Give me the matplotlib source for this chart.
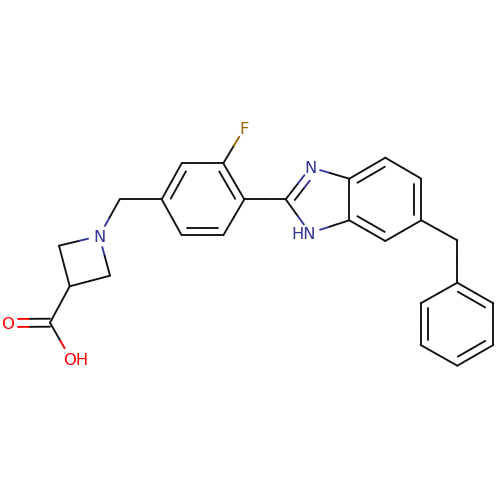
import numpy as np
import matplotlib
matplotlib.use("Agg")
import matplotlib.pyplot as plt

# atom positions
atom_names = ["O1","C1","O2","C2","C3","N1","C4","C5","C6","C7","C8","F","C9","C10","C11",
              "C12","N2","N3","C13","C14","C15","C16","C17","C18","C19","C20","C21","C22","C23","C24","C25"]
atom_x = [7.3,50,70.8,69.7,59,99.3,110,119.7,161.7,181.7,223.3,244.3,244.3,223.3,181.7,
          285.7,310.5,310,349.3,349.3,385.3,421.3,421.3,385.3,457.3,457.3,493.3,493.3,457.3,420.7,420.7]
atom_y = [323,322.7,359,286.3,245.7,236,275.7,199.3,199.3,163.3,163.3,128.3,199.3,235.3,235.3,
          199.3,167.3,233,178.7,220.3,157.7,178.7,220.3,241,240.3,282.7,303.3,345,365.7,345,303.3]
hetero_elements = {"O1":"O","O2":"O","N1":"N","N2":"N","N3":"N","F":"F"}
label_text = {"O1":"O","O2":"OH","N1":"N","N2":"N","N3":"HN","F":"F"}
label_shift = {"O2":4.9,"N3":-6}
gap_size = {"O1":10.7,"O2":12.5,"N1":11.5,"N2":10,"N3":10.5,"F":9.8}

single_bonds = [("C1","O2"),("C1","C2"),("C2","C3"),("C3","N1"),("N1","C4"),("C4","C2"),
                ("N1","C5"),("C5","C6"),("C7","C8"),("C8","F"),("C9","C10"),("C11","C6"),
                ("C9","C12"),("C12","N3"),("N3","C14"),("N2","C13"),("C13","C14"),
                ("C15","C16"),("C17","C18"),("C17","C19"),("C19","C20"),
                ("C21","C22"),("C23","C24"),("C25","C20")]
# double bonds: (atom a, atom b, reference point name group)
ring_double_bonds = [("C6","C7",("C6","C10")),("C8","C9",("C6","C9")),("C10","C11",("C7","C10")),
                     ("C13","C15",("C13","C17")),("C16","C17",("C15","C18")),("C14","C18",("C13","C17")),
                     ("C20","C21",("C20","C23")),("C22","C23",("C21","C24")),("C24","C25",("C20","C23")),
                     ("C12","N2",("C12","C13"))]
symmetric_double_bonds = [("C1","O1")]

colors = {"C":"#111111","N":"#333399","O":"#ff0000","F":"#996600"}
LW = 1.35
pos = {n:np.array([x,y],float) for n,x,y in zip(atom_names,atom_x,atom_y)}
col = lambda n: colors[hetero_elements.get(n,"C")]

fig = plt.figure(figsize=(5,5),dpi=100,facecolor="white")
ax = fig.add_axes([0,0,1,1])
ax.set_xlim(0,500); ax.set_ylim(500,0); ax.set_axis_off()

def seg(p,q,c):
    ax.plot([p[0],q[0]],[p[1],q[1]],color=c,lw=LW,solid_capstyle="round")

def two_tone(p,q,a,b):
    """p, q are drawn ends; colour changes at the a-b bond midpoint projection."""
    pa,pb=pos[a],pos[b]
    u=(pb-pa)/np.linalg.norm(pb-pa)
    L=np.linalg.norm(pb-pa)
    m=p+u*(L/2-np.dot(p-pa,u))
    seg(p,m,col(a)); seg(m,q,col(b))

def trimmed(a,b):
    pa,pb=pos[a],pos[b]
    u=(pb-pa)/np.linalg.norm(pb-pa)
    return pa+u*gap_size.get(a,0), pb-u*gap_size.get(b,0)

for a,b in single_bonds:
    p,q=trimmed(a,b)
    two_tone(p,q,a,b)

for a,b,(r1,r2) in ring_double_bonds:
    p,q=trimmed(a,b)
    two_tone(p,q,a,b)
    pa,pb=pos[a],pos[b]
    u=(pb-pa)/np.linalg.norm(pb-pa)
    n=np.array([-u[1],u[0]])
    ctr=(pos[r1]+pos[r2])/2
    if np.dot(ctr-pa,n)<0: n=-n
    p2=pa+n*7.6+u*max(5,gap_size.get(a,0))
    q2=pb+n*7.6-u*max(5,gap_size.get(b,0)+1)
    two_tone(p2,q2,a,b)

for a,b in symmetric_double_bonds:
    pa,pb=pos[a],pos[b]
    u=(pb-pa)/np.linalg.norm(pb-pa)
    n=np.array([-u[1],u[0]])
    p,q=trimmed(a,b)
    for s in (-4,4):
        two_tone(p+n*s,q+n*s,a,b)

for n,t in label_text.items():
    x,y=pos[n]
    ax.text(x+label_shift.get(n,0),y,t,color=col(n),fontsize=11.8,
            family="DejaVu Sans",ha="center",va="center_baseline")

fig.savefig("out.png",dpi=100,facecolor="white")
